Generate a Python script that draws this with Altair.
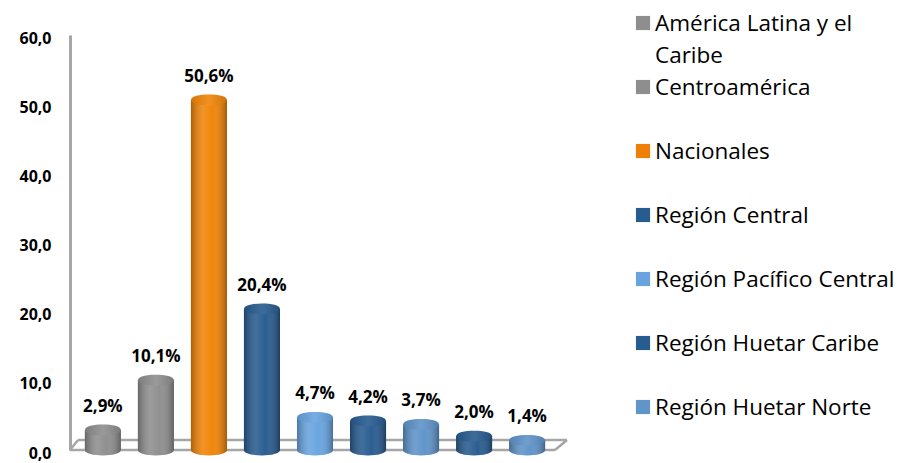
import altair as alt
import pandas as pd

categories = ["América Latina y el Caribe", "Centroamérica", "Nacionales", "Región Central",
              "Región Pacífico Central", "Región Huetar Caribe", "Región Huetar Norte",
              "Región Chorotega", "Región Brunca"]
values = [2.9, 10.1, 50.6, 20.4, 4.7, 4.2, 3.7, 2.0, 1.4]
bar_colors = ["#8e8e8e", "#8e8e8e", "#f08406", "#275b8f", "#68a4e0", "#275b8f", "#5e93c9",
              "#275b8f", "#5e93c9"]
legend_names = ["América Latina y el\nCaribe", "Centroamérica", "Nacionales", "Región Central",
                "Región Pacífico Central", "Región Huetar Caribe", "Región Huetar Norte"]
legend_colors = ["#8e8e8e", "#8e8e8e", "#ef8006", "#285b8f", "#6aa4de", "#285b8f", "#6195c9"]
y_ticks = [0, 10, 20, 30, 40, 50, 60]

FONT = "Open Sans"
GRID = "#a6a6a6"

df = pd.DataFrame({
    "cat": categories,
    "val": values,
    "lab": [f"{v:.1f}%".replace(".", ",") for v in values],
    "zero": [0.0] * len(values),
})
leg = pd.DataFrame({"name": legend_names, "idx": list(range(len(legend_names)))})

xs = alt.Scale(domain=categories, paddingInner=0.32, paddingOuter=0.28)
ys = alt.Scale(domain=[0, 60], nice=False, zero=True)
cs = alt.Scale(domain=categories, range=bar_colors)

x_enc = alt.X("cat:N", scale=xs, sort=categories, axis=None)
y_axis = alt.Axis(values=y_ticks, labelExpr="replace(format(datum.value, '.1f'), '.', ',')",
                  grid=False, ticks=False, domainColor=GRID, domainWidth=3,
                  labelFont=FONT, labelFontWeight="bold", labelFontSize=16, labelColor="black",
                  labelPadding=19, labelOffset=3, title=None)
col_enc = alt.Color("cat:N", scale=cs, legend=None)

ellipse = "M -1 0 C -1 -0.4 1 -0.4 1 0 C 1 0.4 -1 0.4 -1 0 Z"
shade = alt.LinearGradient(gradient="linear", x1=0, x2=1, y1=0, y2=0, stops=[
    alt.GradientStop(offset=0, color="rgba(0,0,0,0.28)"),
    alt.GradientStop(offset=0.35, color="rgba(255,255,255,0.12)"),
    alt.GradientStop(offset=0.6, color="rgba(255,255,255,0.02)"),
    alt.GradientStop(offset=1, color="rgba(0,0,0,0.32)"),
])
top_shade = alt.LinearGradient(gradient="linear", x1=0, x2=1, y1=0, y2=0, stops=[
    alt.GradientStop(offset=0, color="rgba(0,0,0,0.12)"),
    alt.GradientStop(offset=0.5, color="rgba(255,255,255,0.10)"),
    alt.GradientStop(offset=1, color="rgba(0,0,0,0.15)"),
])

base = alt.Chart(df)

# 3D-style floor outline (chart frame)
floor = alt.Chart(pd.DataFrame({"k": [0]}))
floor_style = dict(color=GRID, strokeWidth=2.5)
front = floor.mark_rule(**floor_style).encode(
    x=alt.value(0), x2=alt.value(485), y=alt.value(415))
back = floor.mark_rule(**floor_style).encode(
    x=alt.value(8), x2=alt.value(497), y=alt.value(405))
right_d = floor.mark_rule(**floor_style).encode(
    x=alt.value(485), x2=alt.value(497), y=alt.value(415), y2=alt.value(405))
left_d = floor.mark_rule(**floor_style).encode(
    x=alt.value(0), x2=alt.value(8), y=alt.value(415), y2=alt.value(405))

bottom = base.mark_point(shape=ellipse, filled=True, size=1296, opacity=1, strokeWidth=0).encode(
    x=x_enc, y=alt.Y("zero:Q", scale=ys, axis=y_axis), color=col_enc)
bottom_sh = base.mark_point(shape=ellipse, filled=True, size=1296, opacity=1, strokeWidth=0,
                            color=shade).encode(x=x_enc, y=alt.Y("zero:Q", scale=ys))
body = base.mark_bar(width={"band": 1}).encode(
    x=x_enc, y=alt.Y("val:Q", scale=ys), y2="zero:Q", color=col_enc)
body_sh = base.mark_bar(color=shade).encode(
    x=x_enc, y=alt.Y("val:Q", scale=ys), y2="zero:Q")
top = base.mark_point(shape=ellipse, filled=True, size=1296, opacity=1, strokeWidth=0).encode(
    x=x_enc, y=alt.Y("val:Q", scale=ys), color=col_enc)
top_sh = base.mark_point(shape=ellipse, filled=True, size=1296, opacity=1, strokeWidth=0,
                         color=top_shade).encode(x=x_enc, y=alt.Y("val:Q", scale=ys))
labels = base.mark_text(dy=-23, font=FONT, fontWeight="bold", fontSize=17, color="black").encode(
    x=x_enc, y=alt.Y("val:Q", scale=ys), text="lab:N")

bars_layer = alt.layer(front, back, right_d, left_d, bottom, bottom_sh, body, body_sh, top,
                       top_sh, labels)

ly = alt.Y("idx:Q", scale=alt.Scale(domain=[0, 6], range=[-12, 372], nice=False, zero=False),
           axis=None)
lbase = alt.Chart(leg)
squares = lbase.mark_square(size=200, opacity=1).encode(
    x=alt.value(573), y=ly,
    color=alt.Color("name:N", scale=alt.Scale(domain=legend_names, range=legend_colors),
                    legend=None))
ltext = lbase.mark_text(align="left", baseline="alphabetic", dy=8, font=FONT, fontSize=22.5,
                        lineBreak="\n", lineHeight=32, color="black").encode(
    x=alt.value(585), y=ly, text="name:N")
legend_layer = alt.layer(squares, ltext)

chart = alt.layer(bars_layer, legend_layer).resolve_scale(
    x="independent", y="independent", color="independent"
).properties(
    width=490, height=415,
    padding={"left": 62, "top": 27, "right": 339, "bottom": 12},
    autosize=alt.AutoSizeParams(type="none"),
    background="white",
).configure_view(stroke=None)

chart.save("out.html", embed_options={"renderer": "svg", "actions": False})
